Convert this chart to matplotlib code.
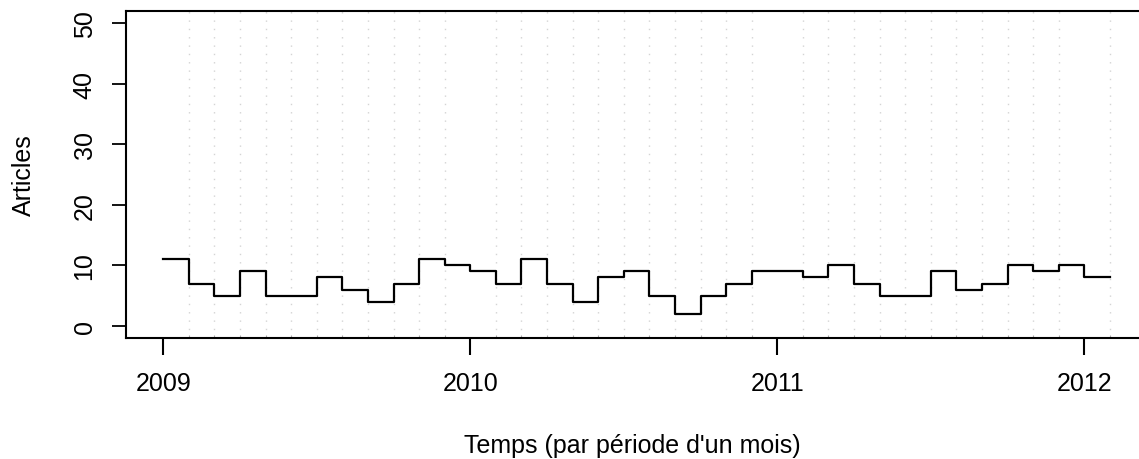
import matplotlib
matplotlib.use('Agg')
import matplotlib.pyplot as plt
import numpy as np

# monthly article counts, Jan 2009 .. Jan 2012
years = [2009, 2010, 2011, 2012]
counts = [11, 7, 5, 9, 5, 5, 8, 6, 4, 7, 11, 10,
          9, 7, 11, 7, 4, 8, 9, 5, 2, 5, 7, 9,
          9, 8, 10, 7, 5, 5, 9, 6, 7, 10, 9, 10,
          8]
yticks = [0, 10, 20, 30, 40, 50]

plt.rcParams['font.family'] = ['Liberation Sans', 'DejaVu Sans']

months = np.array([2009 + i / 12 for i in range(len(counts) + 1)])
vals = counts + [counts[-1]]

fig = plt.figure(figsize=(11.39, 4.60), dpi=100)
ax = fig.add_axes([125.7 / 1139, 121 / 460, (1139 - 125.7) / 1139, 327 / 460])

ax.step(months, vals, where='post', color='black', linewidth=1.6)

ax.set_xlim(2009 - 37.6 / 307, 2012 + (1139 - 1084.3) / 307)
ax.set_ylim(-2.0, 52.0)

ax.set_xticks(years)
ax.set_xticks(months, minor=True)
ax.set_yticks(yticks)
ax.set_yticklabels([str(v) for v in yticks], rotation=90, va='center')

ax.grid(True, which='minor', axis='x', color='#d4d4d4', linestyle=(0, (1, 5)), linewidth=1)
ax.grid(False, which='major')
ax.tick_params(axis='x', which='major', length=12, width=1.5, labelsize=18, pad=12)
ax.tick_params(axis='x', which='minor', length=2, width=0.8, direction='in', color='#aaaaaa')
ax.tick_params(axis='y', which='major', length=10, width=1.3, labelsize=18, pad=11)

for side in ['left', 'top', 'bottom']:
    ax.spines[side].set_linewidth(1.5)
ax.spines['right'].set_visible(False)

ax.set_xlabel("Temps (par période d'un mois)", fontsize=18, labelpad=27)
ax.set_ylabel('Articles', fontsize=18, labelpad=26)

fig.savefig('out.png', dpi=100)
